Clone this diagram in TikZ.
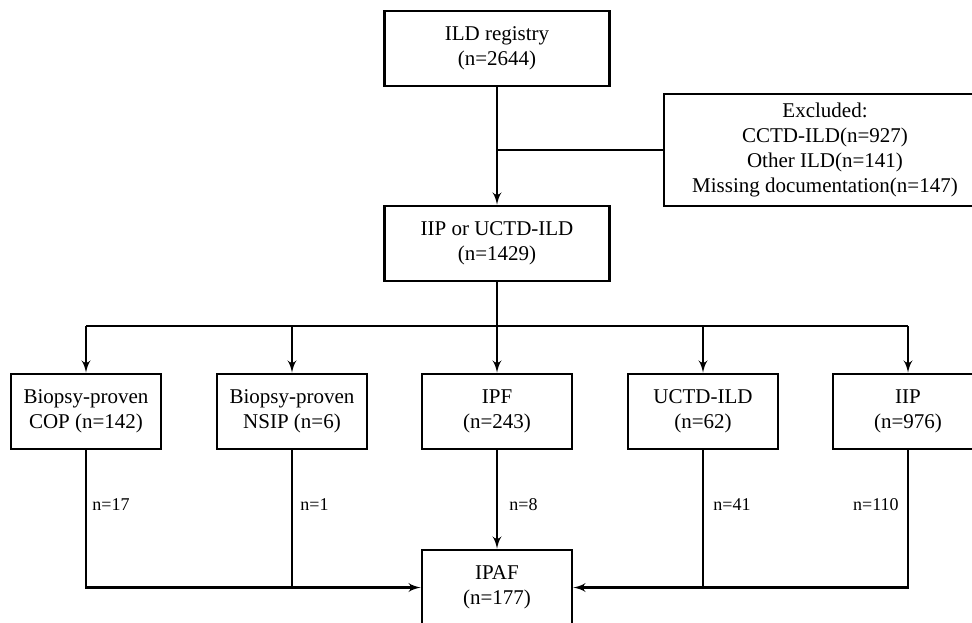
\documentclass[tikz,border=0pt]{standalone}
\usepackage{fontspec}
\setmainfont{Liberation Serif}
\usetikzlibrary{positioning}
\usetikzlibrary{arrows}

\begin{document}
\begin{tikzpicture}[x=0.5pt,y=-0.5pt,
topbox/.style={rectangle, draw, line width=1.4pt, minimum width=112.5pt, minimum height=37.5pt, align=center, inner sep=0pt, font=\fontsize{10.5}{12.5}\selectfont},
groupbox/.style={topbox, minimum width=75pt},
excbox/.style={topbox, minimum width=161pt, minimum height=56pt},
link/.style={->,> = latex', line width=1.1pt},
plain/.style={line width=1.1pt},
count/.style={font=\fontsize{9}{10}\selectfont, inner sep=0pt}
]
\useasboundingbox (0,0) rectangle (972,622);
\clip (0,0) rectangle (972,622);

%Nodes
\node[topbox]   (registry) at (497,48.5)  {ILD registry\\(n=2644)};
\node[topbox]   (iipuctd)  at (497,243.5) {IIP or UCTD-ILD\\(n=1429)};
\node[excbox]   (excluded) at (825,150)   {Excluded:\\CCTD-ILD(n=927)\\Other ILD(n=141)\\Missing documentation(n=147)};
\node[groupbox] (cop)      at (86,411.5)  {Biopsy-proven\\COP (n=142)};
\node[groupbox] (nsip)     at (292,411.5) {Biopsy-proven\\NSIP (n=6)};
\node[groupbox] (ipf)      at (497,411.5) {IPF\\(n=243)};
\node[groupbox] (uctd)     at (703,411.5) {UCTD-ILD\\(n=62)};
\node[groupbox] (iip)      at (908,411.5) {IIP\\(n=976)};
\node[groupbox] (ipaf)     at (497,587.5) {IPAF\\(n=177)};
\coordinate (split) at (497,326);

%Counts
\node[count, anchor=west] (n17)  at (92,505)  {n=17};
\node[count, anchor=west] (n1)   at (300,505) {n=1};
\node[count, anchor=west] (n8)   at (509,505) {n=8};
\node[count, anchor=west] (n41)  at (713,505) {n=41};
\node[count, anchor=east] (n110) at (899,505) {n=110};

%Edges
\draw[link] (registry.south) -- (iipuctd.north);
\draw[plain] (excluded.west) -- (registry.south |- excluded.west);
\draw[plain] (iipuctd.south) -- (split);
\draw[plain] (cop.north |- split) -- (iip.north |- split);
\foreach \g in {cop,nsip,ipf,uctd,iip}
  \draw[link] (\g.north |- split) -- (\g.north);
\draw[link] (cop.south) |- (ipaf.west);
\draw[plain] (nsip.south) -- (nsip.south |- ipaf.west);
\draw[link] (ipf.south) -- (ipaf.north);
\draw[link] (iip.south) |- (ipaf.east);
\draw[plain] (uctd.south) -- (uctd.south |- ipaf.east);

\end{tikzpicture}
\end{document}
